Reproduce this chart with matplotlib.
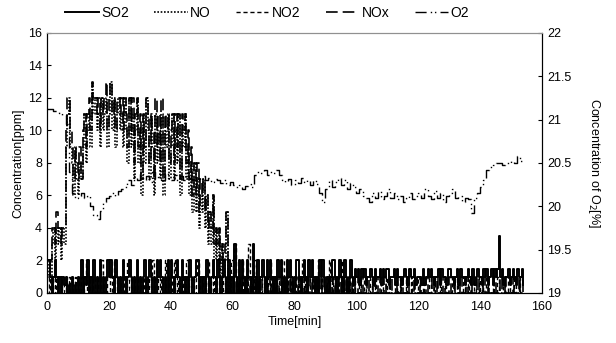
import numpy as np
import matplotlib
matplotlib.use("Agg")
import matplotlib.pyplot as plt
from matplotlib.lines import Line2D

plt.rcParams['font.family'] = ['Liberation Sans', 'DejaVu Sans']

# readings every 0.5 min, t = 0 .. 154 min, one line per 10 min
# SO2 in half-ppm steps (digit * 0.5 ppm)
so2_half = ("44202420202120102010"
            "20402140204020402024"
            "24204202042024202040"
            "20240242020424202040"
            "42024204202042024402"
            "02042024204202420402"
            "06204042042206204024"
            "20424202042402042420"
            "24420242042420204242"
            "02024420242042024213"
            "23132312232132231323"
            "31223132212321322312"
            "22131232321223132213"
            "32212313221232131232"
            "21323123132372312231"
            "232132231")

# NO2 in ppm (integer readings)
no2_ppm = ("01010101101010101010"
           "10101201010101021010"
           "01021010101020101010"
           "10101010201010102010"
           "01201010102010101201"
           "10102010101201010102"
           "03101020103010201010"
           "10102010101020101010"
           "01010201010101020101"
           "10201010102010101010"
           "00100100010010001001"
           "01000100100010010000"
           "10010001001000100100"
           "00100100010010001001"
           "01001000100100010010"
           "001001000")

# NO and NOx in ppm, hex digits (A=10 .. D=13)
no_hex = ("1213424342439BC98697"
          "6879B8AB9DBCAB9CABC9"
          "BDAC9BCAB9CA8C9B7AC8"
          "A6B8CA7B96B8A7B6A9B7"
          "9B7A8B6A9B7968585746"
          "57463536242413125010"
          "00000000000000000000"
          "00000000000000000000"
          "00000000000000000000"
          "00000000000000000000"
          "00000000000000000000"
          "00000000000000000000"
          "00000000000000000000"
          "00000000000000000000"
          "00000000000000000000"
          "000000000")

nox_hex = ("222443544344ACCA9798"
           "797AB9BCADCCBCACBCDA"
           "CDBCACCBCACB9CAC8BC9"
           "B7B9CB8BA7C9B8C7BAB8"
           "AB8B9B7BAB8A79686857"
           "67564546343423235111"
           "10101010101010101010"
           "01010101010101010101"
           "10101010101010101010"
           "01010101010101010101"
           "10010001000100100010"
           "00100010010001000100"
           "01000100010010001000"
           "10010001000100100010"
           "00100100010001001000"
           "010001001")

# O2 [%] once per minute, t = 0 .. 154 min
o2_pct = [21.12, 21.12, 21.10, 21.10, 21.08, 21.05, 20.95, 20.40, 20.15, 20.10,
          20.12, 20.15, 20.10, 20.12, 20.00, 19.90, 19.85, 19.95, 20.05, 20.10,
          20.12, 20.15, 20.12, 20.18, 20.20, 20.22, 20.30, 20.25, 20.35, 20.30,
          20.38, 20.30, 20.35, 20.28, 20.40, 20.32, 20.36, 20.30, 20.38, 20.33,
          20.30, 20.36, 20.28, 20.35, 20.30, 20.38, 20.32, 20.30, 20.33, 20.32,
          20.35, 20.30, 20.33, 20.28, 20.32, 20.30, 20.27, 20.30, 20.25, 20.28,
          20.25, 20.22, 20.25, 20.20, 20.24, 20.26, 20.22, 20.36, 20.40, 20.38,
          20.42, 20.36, 20.40, 20.38, 20.42, 20.36, 20.30, 20.28, 20.32, 20.25,
          20.30, 20.27, 20.33, 20.28, 20.30, 20.25, 20.30, 20.26, 20.15, 20.05,
          20.20, 20.30, 20.22, 20.28, 20.33, 20.25, 20.30, 20.20, 20.27, 20.22,
          20.15, 20.20, 20.12, 20.10, 20.05, 20.15, 20.10, 20.18, 20.08, 20.12,
          20.20, 20.10, 20.15, 20.08, 20.12, 20.05, 20.10, 20.15, 20.08, 20.12,
          20.15, 20.10, 20.20, 20.12, 20.08, 20.18, 20.10, 20.15, 20.05, 20.12,
          20.15, 20.20, 20.10, 20.12, 20.05, 20.10, 20.08, 19.92, 20.10, 20.15,
          20.22, 20.30, 20.42, 20.45, 20.48, 20.50, 20.50, 20.48, 20.50, 20.50,
          20.52, 20.50, 20.58, 20.52, 20.56]

x_ticks = [0, 20, 40, 60, 80, 100, 120, 140, 160]
left_ticks = [0, 2, 4, 6, 8, 10, 12, 14, 16]
right_ticks = [19, 19.5, 20, 20.5, 21, 21.5, 22]


def decode(s, base=10):
    return np.array([int(ch, base) for ch in s], dtype=float)


so2 = decode(so2_half) * 0.5
no2 = decode(no2_ppm)
no = decode(no_hex, 16)
nox = decode(nox_hex, 16)
t_half = np.arange(len(so2)) * 0.5
t_min = np.arange(len(o2_pct))
assert len(no2) == len(no) == len(nox) == len(so2)

fig = plt.figure(figsize=(6.16, 3.43), dpi=100)
ax = fig.add_axes([0.0763, 0.1458, 0.8036, 0.758])
ax2 = ax.twinx()

styles = {
    'SO2': dict(ls='-', lw=1.4),
    'NO': dict(ls=(0, (1, 1)), lw=1.2),
    'NO2': dict(ls=(0, (3, 2)), lw=1.0),
    'NOx': dict(ls=(0, (7, 3)), lw=1.2),
    'O2': dict(ls=(0, (8, 3, 1, 2, 1, 3)), lw=1.0),
}

ax.plot(t_half, so2, color='black', drawstyle='steps-post', **styles['SO2'])
ax.plot(t_half, no, color='black', drawstyle='steps-post', **styles['NO'])
ax.plot(t_half, no2, color='black', drawstyle='steps-post', **styles['NO2'])
ax.plot(t_half, nox, color='black', drawstyle='steps-post', **styles['NOx'])
ax2.plot(t_min, o2_pct, color='black', drawstyle='steps-post', **styles['O2'])

ax.set_xlim(0, 160)
ax.set_ylim(0, 16)
ax2.set_ylim(19, 22)
ax.set_xticks(x_ticks)
ax.set_yticks(left_ticks)
ax2.set_yticks(right_ticks)
ax2.set_yticklabels(['19', '19.5', '20', '20.5', '21', '21.5', '22'])

ax.tick_params(axis='y', direction='in', length=3, labelsize=9)
ax.tick_params(axis='x', direction='in', length=0, labelsize=9, pad=6)
ax2.tick_params(axis='y', direction='in', length=3, labelsize=9)

for a in (ax, ax2):
    a.spines['top'].set_color('#909090')
    a.spines['left'].set_color('black')
    a.spines['right'].set_color('black')
    a.spines['bottom'].set_color('black')

ax.set_xlabel('Time[min]', fontsize=9, labelpad=2)
ax.set_ylabel('Concentration[ppm]', fontsize=9, labelpad=3)
ax2.set_ylabel('Concentration of O$_2$[%]', fontsize=9, rotation=270, labelpad=22)

handles = [Line2D([], [], color='black', **styles[k]) for k in styles]
fig.legend(handles, list(styles.keys()), loc='upper center', ncol=5,
           bbox_to_anchor=(0.434, 1.02), frameon=False, fontsize=10,
           handlelength=2.4, handletextpad=0.2, columnspacing=1.8)

fig.savefig('out.png', dpi=100)
